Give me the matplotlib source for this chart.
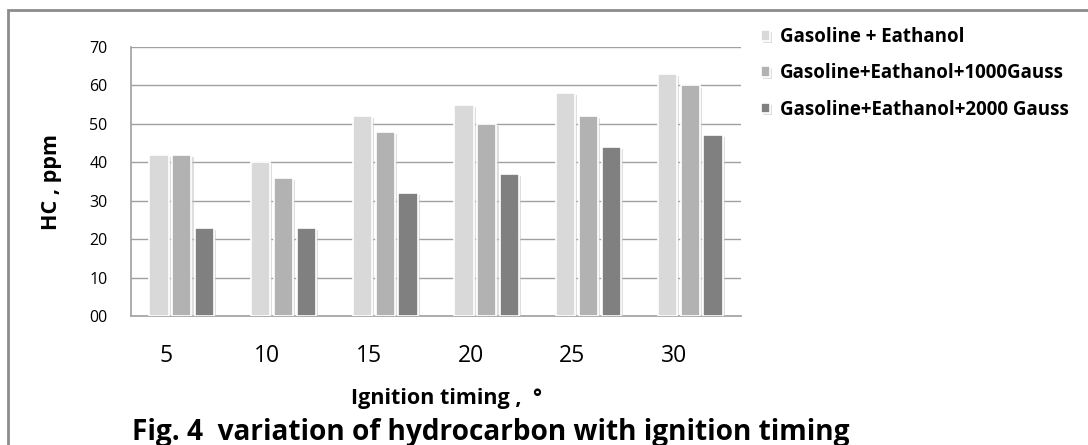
import numpy as np
import matplotlib
matplotlib.use("Agg")
import matplotlib.pyplot as plt
from matplotlib.patches import Rectangle
import matplotlib.patheffects as pe

# Datos
timing = ["5", "10", "15", "20", "25", "30"]
eth = [42, 40, 52, 55, 58, 63]
eth_1000 = [42, 36, 48, 50, 52, 60]
eth_2000 = [23, 23, 32, 37, 44, 47]
y_ticks = [0, 10, 20, 30, 40, 50, 60, 70]
y_tick_labels = ["00", "10", "20", "30", "40", "50", "60", "70"]
series_names = ["Gasoline + Eathanol", "Gasoline+Eathanol+1000Gauss",
                "Gasoline+Eathanol+2000 Gauss"]
colores = ["#d9d9d9", "#b2b2b2", "#808080"]

plt.rcParams['font.family'] = ['Open Sans', 'DejaVu Sans']

fig = plt.figure(figsize=(10.88, 4.45), dpi=100)
ax = fig.add_axes([131/1088, 1 - 316/445, 610/1088, 269/445])

x = np.arange(len(timing))
ancho = 0.19
paso = 0.225
sombra = [pe.SimplePatchShadow(offset=(1.5, -1.5), shadow_rgbFace="#c8c8c8", alpha=0.6), pe.Normal()]
handles = []
for k, (vals, col) in enumerate(zip([eth, eth_1000, eth_2000], colores)):
    b = ax.bar(x + (k - 1) * paso, vals, width=ancho, color=col,
               edgecolor="white", linewidth=1.2, zorder=3, label=series_names[k])
    for r in b:
        r.set_path_effects(sombra)
    handles.append(b)

ax.set_xlim(-0.5, len(timing) - 0.5)
ax.set_ylim(0, 70)
ax.set_yticks(y_ticks)
ax.set_yticklabels(y_tick_labels, fontsize=11.5)
ax.set_xticks(x - 0.16)
ax.set_xticklabels(timing, fontsize=16.5)
ax.tick_params(axis="y", length=0, pad=17)
ax.tick_params(axis="x", length=0, pad=20)
ax.yaxis.grid(True, color="#a0a0a0", linewidth=1)
ax.set_axisbelow(True)
for s in ["top", "right"]:
    ax.spines[s].set_visible(False)
for s in ["left", "bottom"]:
    ax.spines[s].set_color("#a0a0a0")
    ax.spines[s].set_linewidth(1.2)

fig.text(51/1088, 1 - 182/445, "HC , ppm", rotation=90, fontsize=15.5,
         fontweight="bold", ha="center", va="center")
fig.text(447/1088, 1 - 404/445, "Ignition timing ,  \u00b0", fontsize=15.5,
         fontweight="bold", ha="center", va="baseline")
fig.text(132/1088, 1 - 440/445, "Fig. 4  variation of hydrocarbon with ignition timing",
         fontsize=20.2, fontweight="bold", ha="left", va="baseline")

fig.legend(handles=handles, labels=series_names, loc="upper left",
           bbox_to_anchor=(761/1088, 1 - 27/445), frameon=False,
           prop={"weight": "bold", "size": 13.5},
           handlelength=0.5, handleheight=0.5, handletextpad=0.5,
           labelspacing=0.87, borderaxespad=0, borderpad=0)

# marco exterior
fig.patches.append(Rectangle((8/1088, -0.1), 1.2, 1 - 10/445 + 0.1,
                             transform=fig.transFigure, fill=False,
                             edgecolor="#8c8c8c", linewidth=2))

fig.savefig("out.png", dpi=100)
